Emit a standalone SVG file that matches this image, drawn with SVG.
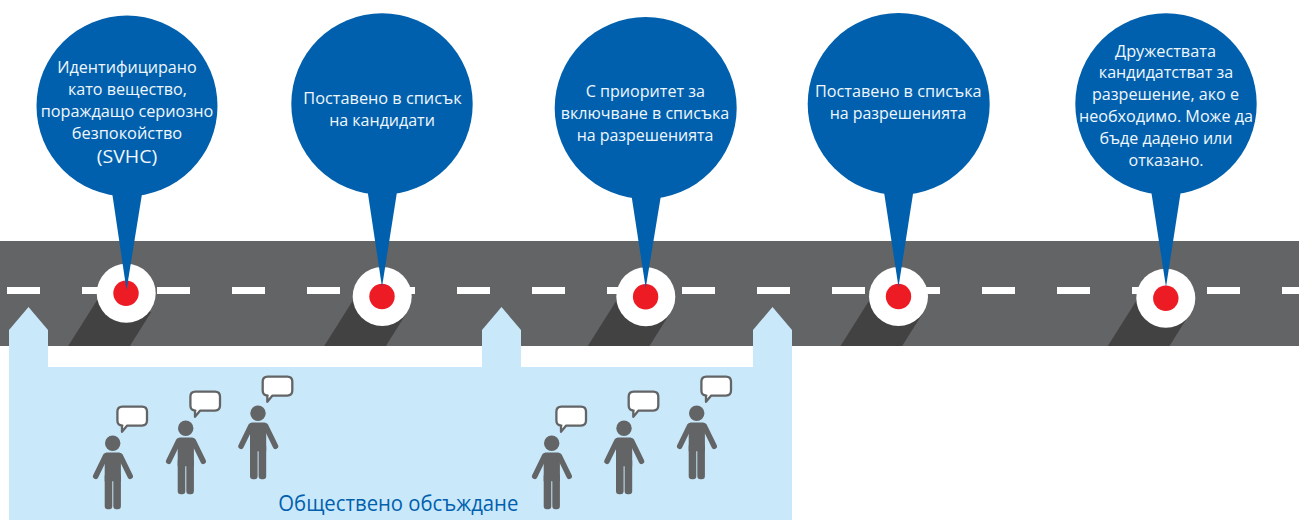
<svg xmlns="http://www.w3.org/2000/svg" width="1299" height="520" viewBox="0 0 1299 520">
<style>
.road{fill:#636466}
.dash{fill:#fff}
.public{fill:#c9e8fa}
.bubble{fill:#0060ad}
.ring{fill:#fff}
.dot{fill:#ed1c24}
.shadow{fill:#424243}
.t{font-family:"Open Sans","Noto Sans",sans-serif;font-size:17px;fill:#f0f7fc;text-anchor:middle}
.s{font-family:"Open Sans","Noto Sans",sans-serif;font-size:18.5px;fill:#f0f7fc;text-anchor:middle}
.pub{font-family:"Open Sans","Noto Sans",sans-serif;font-size:21.5px;fill:#0060ad;text-anchor:middle}
.p{fill:#636466}
.pa{stroke:#636466;stroke-width:5.5;stroke-linecap:round;fill:none}
.pb{fill:#fff;stroke:#636466;stroke-width:2.3;stroke-linejoin:round}
</style>
<defs>
<g id="person">
<circle class="p" cx="0" cy="0" r="7.7"/>
<path class="p" d="M-6,9.3H6.5Q8.2,9.3 8.2,11V38H-8V11Q-8,9.3 -6,9.3Z"/>
<rect class="p" x="-8" y="30" width="7.6" height="36" rx="3.2"/>
<rect class="p" x="0.6" y="30" width="7.6" height="36" rx="3.2"/>
<path class="pa" d="M-7,12.5L-17,33M7.5,12.5L17.5,33"/>
<path class="pb" d="M9.7,-36.7H29.3Q34.3,-36.7 34.3,-31.7V-22.7Q34.3,-17.7 29.3,-17.7H14.5L9.3,-11.5V-17.7H9.7Q4.7,-17.7 4.7,-22.7V-31.7Q4.7,-36.7 9.7,-36.7Z"/>
</g>
<polygon id="shade" class="shadow" points="-58,0 3.7,0 25,-34 -29,-46"/>
</defs>

<g id="road">
<rect class="road" x="0" y="241" width="1299" height="105"/>
<g id="dashes" class="dash">
<rect x="7" y="287" width="33" height="7"/>
<rect x="82" y="287" width="33" height="7"/>
<rect x="157" y="287" width="33" height="7"/>
<rect x="232" y="287" width="33" height="7"/>
<rect x="307" y="287" width="33" height="7"/>
<rect x="382" y="287" width="33" height="7"/>
<rect x="457" y="287" width="33" height="7"/>
<rect x="532" y="287" width="33" height="7"/>
<rect x="607" y="287" width="33" height="7"/>
<rect x="682" y="287" width="33" height="7"/>
<rect x="757" y="287" width="33" height="7"/>
<rect x="832" y="287" width="33" height="7"/>
<rect x="907" y="287" width="33" height="7"/>
<rect x="982" y="287" width="33" height="7"/>
<rect x="1057" y="287" width="33" height="7"/>
<rect x="1132" y="287" width="33" height="7"/>
<rect x="1207" y="287" width="33" height="7"/>
<rect x="1282" y="287" width="17" height="7"/>
</g>
</g>

<g id="connectors">
<polygon class="public" points="9,520 9,330 28.5,307 48,330 48,367 482,367 482,330 501.5,307 521,330 521,367 753,367 753,330 772.5,307 792,330 792,520"/>
</g>

<g id="public-consultation">
<use href="#person" x="112.7" y="443.3"/>
<use href="#person" x="185.7" y="428.3"/>
<use href="#person" x="258" y="413.3"/>
<use href="#person" x="551.7" y="443.3"/>
<use href="#person" x="624" y="428.3"/>
<use href="#person" x="696.7" y="413.3"/>
<text class="pub" x="398.3" y="511" textLength="240" lengthAdjust="spacingAndGlyphs">Обществено обсъждане</text>
</g>

<g id="node-1">
<use href="#shade" x="126.2" y="346"/>
<circle class="ring" cx="126.2" cy="293.3" r="29.5"/>
<circle class="dot" cx="126" cy="293.3" r="12.7"/>
<circle class="bubble" cx="127" cy="106" r="90.5"/>
<polygon class="bubble" points="112.3,194 142,194 126.5,290"/>
<text class="t" x="127" y="73" textLength="139.3" lengthAdjust="spacingAndGlyphs">Идентифицирано</text>
<text class="t" x="127.5" y="95" textLength="119" lengthAdjust="spacingAndGlyphs">като вещество,</text>
<text class="t" x="127" y="117.3" textLength="172.7" lengthAdjust="spacingAndGlyphs">пораждащо сериозно</text>
<text class="t" x="127" y="139.3" textLength="110.3" lengthAdjust="spacingAndGlyphs">безпокойство</text>
<text class="s" x="127" y="162.7" textLength="60.7" lengthAdjust="spacingAndGlyphs">(SVHC)</text>
</g>

<g id="node-2">
<use href="#shade" x="382.2" y="346"/>
<circle class="ring" cx="382.2" cy="296.5" r="29.5"/>
<circle class="dot" cx="382" cy="296.5" r="12.7"/>
<circle class="bubble" cx="382" cy="104" r="90.7"/>
<polygon class="bubble" points="367.7,192 397,192 382,287"/>
<text class="t" x="382.5" y="104" textLength="158.3" lengthAdjust="spacingAndGlyphs">Поставено в списък</text>
<text class="t" x="382" y="126" textLength="105.7" lengthAdjust="spacingAndGlyphs">на кандидати</text>
</g>

<g id="node-3">
<use href="#shade" x="645.8" y="346"/>
<circle class="ring" cx="645.8" cy="296.7" r="29.5"/>
<circle class="dot" cx="645.6" cy="296.7" r="12.7"/>
<circle class="bubble" cx="645.7" cy="108" r="91"/>
<polygon class="bubble" points="631.7,197 660.7,197 645.7,288"/>
<text class="t" x="645.3" y="97.3" textLength="119.3" lengthAdjust="spacingAndGlyphs">С приоритет за</text>
<text class="t" x="645" y="119" textLength="168.3" lengthAdjust="spacingAndGlyphs">включване в списъка</text>
<text class="t" x="645" y="141.3" textLength="136.7" lengthAdjust="spacingAndGlyphs">на разрешенията</text>
</g>

<g id="node-4">
<use href="#shade" x="898.5" y="346"/>
<circle class="ring" cx="898.5" cy="296.5" r="29.5"/>
<circle class="dot" cx="898.5" cy="296.5" r="12.7"/>
<circle class="bubble" cx="898.7" cy="104" r="91"/>
<polygon class="bubble" points="884,192 913.3,192 898.5,287"/>
<text class="t" x="898.3" y="97.3" textLength="166.7" lengthAdjust="spacingAndGlyphs">Поставено в списъка</text>
<text class="t" x="898" y="119" textLength="136.7" lengthAdjust="spacingAndGlyphs">на разрешенията</text>
</g>

<g id="node-5">
<use href="#shade" x="1165.8" y="346"/>
<circle class="ring" cx="1165.8" cy="298.2" r="29.5"/>
<circle class="dot" cx="1165.8" cy="298.2" r="12.7"/>
<circle class="bubble" cx="1166" cy="104" r="90.7"/>
<polygon class="bubble" points="1151.3,192 1180.7,192 1166,287"/>
<text class="t" x="1165.5" y="56.7" textLength="101" lengthAdjust="spacingAndGlyphs">Дружествата</text>
<text class="t" x="1166" y="78.3" textLength="134.3" lengthAdjust="spacingAndGlyphs">кандидатстват за</text>
<text class="t" x="1165.5" y="100" textLength="147" lengthAdjust="spacingAndGlyphs">разрешение, ако е</text>
<text class="t" x="1166" y="122.3" textLength="174" lengthAdjust="spacingAndGlyphs">необходимо. Може да</text>
<text class="t" x="1166" y="144" textLength="133" lengthAdjust="spacingAndGlyphs">бъде дадено или</text>
<text class="t" x="1166" y="165.7" textLength="75" lengthAdjust="spacingAndGlyphs">отказано.</text>
</g>
</svg>
